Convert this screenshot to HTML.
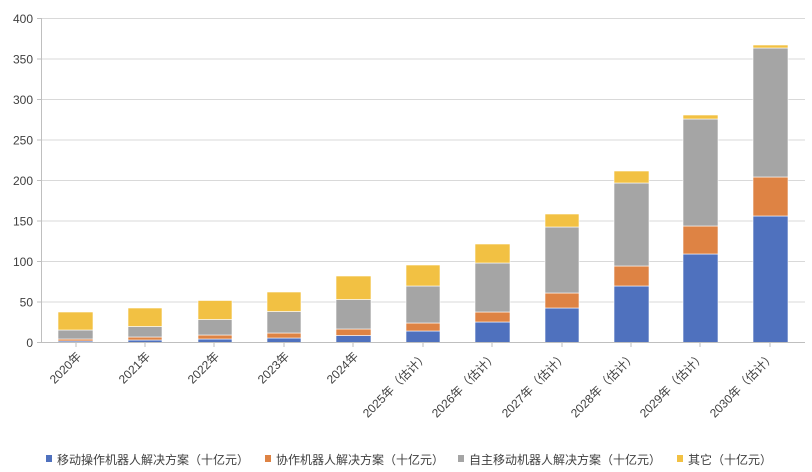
<!DOCTYPE html>
<html><head><meta charset="utf-8"><style>
body{margin:0;background:#fff}
svg{display:block;font-family:"Liberation Sans","Noto Sans CJK SC",sans-serif}
</style></head><body>
<svg width="812" height="472" viewBox="0 0 812 472" xmlns="http://www.w3.org/2000/svg">
<rect width="812" height="472" fill="#fff"/>
<g stroke="#d9d9d9" stroke-width="1">
<line x1="41" y1="18.5" x2="805" y2="18.5"/>
<line x1="41" y1="59" x2="805" y2="59"/>
<line x1="41" y1="99.5" x2="805" y2="99.5"/>
<line x1="41" y1="140" x2="805" y2="140"/>
<line x1="41" y1="180.5" x2="805" y2="180.5"/>
<line x1="41" y1="221" x2="805" y2="221"/>
<line x1="41" y1="261.5" x2="805" y2="261.5"/>
<line x1="41" y1="302" x2="805" y2="302"/>
</g>
<g stroke="#bfbfbf" stroke-width="1">
<line x1="41.5" y1="18" x2="41.5" y2="343"/>
<line x1="37" y1="18.5" x2="41" y2="18.5"/><line x1="37" y1="59" x2="41" y2="59"/><line x1="37" y1="99.5" x2="41" y2="99.5"/><line x1="37" y1="140" x2="41" y2="140"/><line x1="37" y1="180.5" x2="41" y2="180.5"/><line x1="37" y1="221" x2="41" y2="221"/><line x1="37" y1="261.5" x2="41" y2="261.5"/><line x1="37" y1="302" x2="41" y2="302"/><line x1="37" y1="342.5" x2="41" y2="342.5"/>
</g>
<g font-size="12" fill="#404040" text-anchor="end">
<text x="33" y="23">400</text><text x="33" y="63.5">350</text><text x="33" y="104">300</text><text x="33" y="144.5">250</text><text x="33" y="185">200</text><text x="33" y="225.5">150</text><text x="33" y="266">100</text><text x="33" y="306.5">50</text><text x="33" y="347">0</text>
</g>
<g stroke="#fff" stroke-width="0.6">
<g fill="#4f71be">
<rect x="58" y="341" width="35" height="1.5"/>
<rect x="128" y="340" width="34" height="2.5"/>
<rect x="198" y="339" width="34" height="3.5"/>
<rect x="267" y="338" width="34" height="4.5"/>
<rect x="336" y="335.5" width="35" height="7"/>
<rect x="406" y="331" width="34" height="11.5"/>
<rect x="475" y="322" width="35" height="20.5"/>
<rect x="545" y="308" width="34" height="34.5"/>
<rect x="614" y="286" width="35" height="56.5"/>
<rect x="683" y="254" width="35" height="88.5"/>
<rect x="753" y="216" width="35" height="126.5"/>
</g>
<g fill="#de8344">
<rect x="58" y="339" width="35" height="2"/>
<rect x="128" y="337" width="34" height="3"/>
<rect x="198" y="335" width="34" height="4"/>
<rect x="267" y="333" width="34" height="5"/>
<rect x="336" y="329" width="35" height="6.5"/>
<rect x="406" y="323" width="34" height="8"/>
<rect x="475" y="312" width="35" height="10"/>
<rect x="545" y="293" width="34" height="15"/>
<rect x="614" y="266" width="35" height="20"/>
<rect x="683" y="226" width="35" height="28"/>
<rect x="753" y="177" width="35" height="39"/>
</g>
<g fill="#a5a5a5">
<rect x="58" y="330" width="35" height="9"/>
<rect x="128" y="326.5" width="34" height="10.5"/>
<rect x="198" y="319.5" width="34" height="15.5"/>
<rect x="267" y="311.5" width="34" height="21.5"/>
<rect x="336" y="299.5" width="35" height="29.5"/>
<rect x="406" y="286" width="34" height="37"/>
<rect x="475" y="263" width="35" height="49"/>
<rect x="545" y="227" width="34" height="66"/>
<rect x="614" y="183" width="35" height="83"/>
<rect x="683" y="119" width="35" height="107"/>
<rect x="753" y="48" width="35" height="129"/>
</g>
<g fill="#f2c143">
<rect x="58" y="312" width="35" height="18"/>
<rect x="128" y="308" width="34" height="18.5"/>
<rect x="198" y="300.5" width="34" height="19"/>
<rect x="267" y="292" width="34" height="19.5"/>
<rect x="336" y="276" width="35" height="23.5"/>
<rect x="406" y="265" width="34" height="21"/>
<rect x="475" y="244" width="35" height="19"/>
<rect x="545" y="214" width="34" height="13"/>
<rect x="614" y="171" width="35" height="12"/>
<rect x="683" y="115" width="35" height="4"/>
<rect x="753" y="45" width="35" height="3"/>
</g>
</g>
<g stroke="#bfbfbf" stroke-width="1">
<line x1="41" y1="342.5" x2="805" y2="342.5"/>
<line x1="76" y1="342" x2="76" y2="347"/><line x1="145" y1="342" x2="145" y2="347"/><line x1="214" y1="342" x2="214" y2="347"/><line x1="284" y1="342" x2="284" y2="347"/><line x1="353" y1="342" x2="353" y2="347"/><line x1="423" y1="342" x2="423" y2="347"/><line x1="492" y1="342" x2="492" y2="347"/><line x1="562" y1="342" x2="562" y2="347"/><line x1="631" y1="342" x2="631" y2="347"/><line x1="700" y1="342" x2="700" y2="347"/><line x1="770" y1="342" x2="770" y2="347"/>
</g>
<g font-size="12" fill="#404040" text-anchor="end">
<text transform="translate(82,357) rotate(-45)">2020年</text>
<text transform="translate(151,357) rotate(-45)">2021年</text>
<text transform="translate(220,357) rotate(-45)">2022年</text>
<text transform="translate(290,357) rotate(-45)">2023年</text>
<text transform="translate(359,357) rotate(-45)">2024年</text>
<text transform="translate(429,357) rotate(-45)">2025年（估计）</text>
<text transform="translate(498,357) rotate(-45)">2026年（估计）</text>
<text transform="translate(568,357) rotate(-45)">2027年（估计）</text>
<text transform="translate(637,357) rotate(-45)">2028年（估计）</text>
<text transform="translate(706,357) rotate(-45)">2029年（估计）</text>
<text transform="translate(776,357) rotate(-45)">2030年（估计）</text>
</g>
<g font-size="12" fill="#404040">
<rect x="46" y="455" width="6" height="7" fill="#4f71be"/><text x="57" y="464">移动操作机器人解决方案（十亿元）</text>
<rect x="265" y="455" width="6" height="7" fill="#de8344"/><text x="276" y="464">协作机器人解决方案（十亿元）</text>
<rect x="458" y="455" width="6" height="7" fill="#a5a5a5"/><text x="469" y="464">自主移动机器人解决方案（十亿元）</text>
<rect x="677" y="455" width="6" height="7" fill="#f2c143"/><text x="688" y="464">其它（十亿元）</text>
</g>
</svg>
</body></html>
